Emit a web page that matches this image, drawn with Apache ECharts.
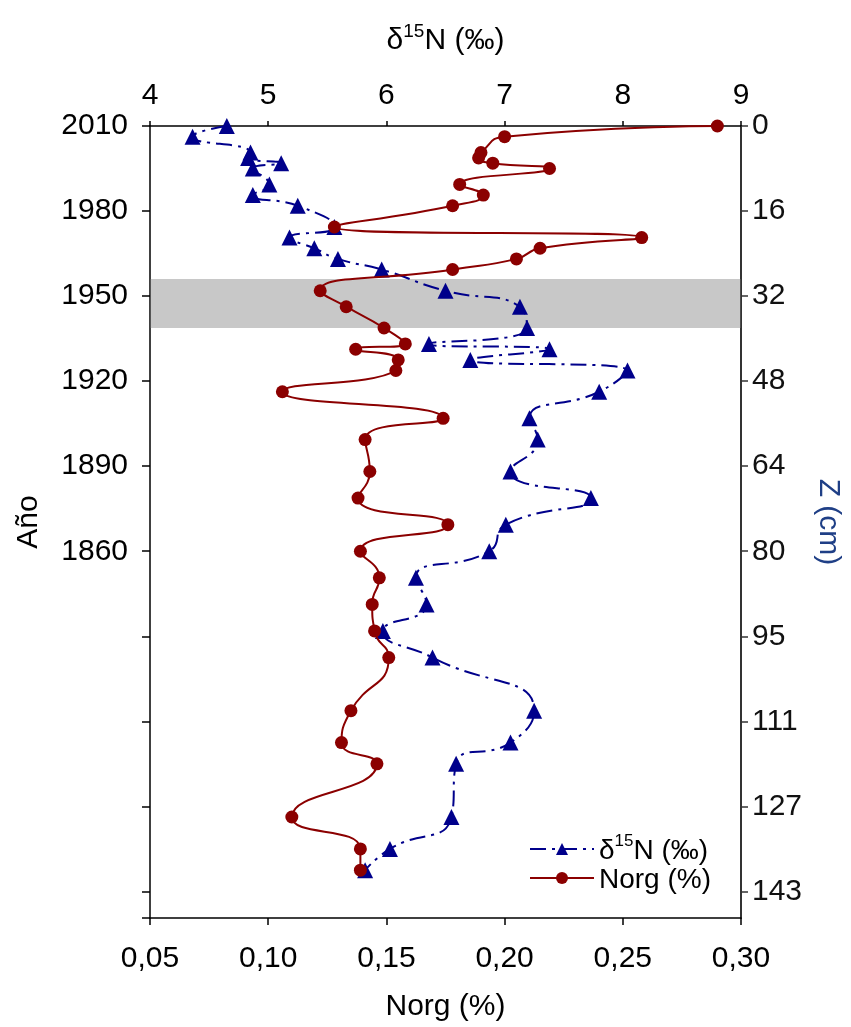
<!DOCTYPE html>
<html>
<head>
<meta charset="utf-8">
<style>
  html, body { margin: 0; padding: 0; background: #fff; }
  #chart { width: 851px; height: 1027px; }
</style>
<script src="https://cdn.jsdelivr.net/npm/echarts@6/dist/echarts.min.js"></script>
</head>
<body>
<div id="chart"></div>
<script>
// Sediment core profile: depth (cm) against Norg (%) and δ15N (‰)
const depthCm = [0, 2, 5, 6, 7, 8, 11, 13, 15, 19, 21, 23, 25, 27, 31, 34, 38, 41, 42, 44,
                 46, 50, 55, 59, 65, 70, 75, 80, 85, 90, 95, 100, 110, 116, 120, 130, 136, 140];
const norgPct = [0.290, 0.200, 0.190, 0.189, 0.195, 0.219, 0.181, 0.191, 0.178, 0.128,
                 0.258, 0.215, 0.205, 0.178, 0.122, 0.133, 0.149, 0.158, 0.137, 0.155,
                 0.154, 0.106, 0.174, 0.141, 0.143, 0.138, 0.176, 0.139, 0.147, 0.144,
                 0.145, 0.151, 0.135, 0.131, 0.146, 0.110, 0.139, 0.139];
const d15N = [4.65, 4.36, 4.85, 4.83, 5.11, 4.87, 5.01, 4.87, 5.25, 5.56,
              5.18, 5.39, 5.59, 5.96, 6.50, 7.13, 7.19, 6.36, 7.38, 6.71,
              8.04, 7.80, 7.21, 7.28, 7.05, 7.73, 7.01, 6.87, 6.25, 6.34,
              5.97, 6.39, 7.25, 7.05, 6.59, 6.55, 6.03, 5.82];

// Tick labels, one per 16 cm step
const yearLabels = ['2010', '1980', '1950', '1920', '1890', '1860', '', '', '', ''];
const depthLabels = ['0', '16', '32', '48', '64', '80', '95', '111', '127', '143'];

// Shaded depth interval (cm)
const bandDepth = [28.8, 38.0];

const FONT = 'Liberation Sans, Arial, sans-serif';
const BLUE = '#00008b';
const RED = '#8b0000';
const TICK_FS = 30;
const NAME_FS = 30;

const norgSeries = depthCm.map((d, i) => [norgPct[i], d]);
const d15NSeries = depthCm.map((d, i) => [d15N[i], d]);

const chart = echarts.init(document.getElementById('chart'), null, { renderer: 'canvas' });

const yCommon = {
  type: 'value', min: 0, max: 149, interval: 16, inverse: true,
  splitLine: { show: false }
};

// δ15N with a raised "15"
const deltaRich = (fs, sfs) => ({
  d: { fontSize: fs, lineHeight: fs + 4, fontFamily: FONT, color: '#000', verticalAlign: 'bottom' },
  s: { fontSize: sfs, lineHeight: sfs, fontFamily: FONT, color: '#000', verticalAlign: 'top' }
});

chart.setOption({
  animation: false,
  backgroundColor: '#fff',
  textStyle: { fontFamily: FONT },
  grid: { left: 150, right: 110, top: 126, bottom: 107, containLabel: false },
  xAxis: [
    {
      type: 'value', position: 'bottom', min: 0.05, max: 0.30, interval: 0.05,
      name: 'Norg (%)', nameLocation: 'middle', nameGap: 74,
      nameTextStyle: { fontSize: NAME_FS, color: '#000', fontFamily: FONT },
      axisLine: { show: true, onZero: false, lineStyle: { color: '#000', width: 1.5 } },
      axisTick: { show: true, inside: false, length: 7, lineStyle: { color: '#000', width: 1.5 } },
      axisLabel: { fontSize: TICK_FS, color: '#000', margin: 26, fontFamily: FONT,
        formatter: v => v.toFixed(2).replace('.', ',') },
      splitLine: { show: false }
    },
    {
      type: 'value', position: 'top', min: 4, max: 9, interval: 1,
      name: '{d|δ}{s|15}{d|N (‰)}', nameLocation: 'middle', nameGap: 70,
      nameTextStyle: { color: '#000', fontFamily: FONT, rich: deltaRich(NAME_FS, 19) },
      axisLine: { show: true, onZero: false, lineStyle: { color: '#000', width: 1.5 } },
      axisTick: { show: true, inside: false, length: 5, lineStyle: { color: '#000', width: 1.5 } },
      axisLabel: { fontSize: TICK_FS, color: '#000', margin: 15, fontFamily: FONT },
      splitLine: { show: false }
    }
  ],
  yAxis: [
    Object.assign({}, yCommon, {
      position: 'left',
      name: 'Año', nameLocation: 'middle', nameGap: 106,
      nameTextStyle: { fontSize: NAME_FS, color: '#000', fontFamily: FONT },
      axisLine: { show: true, onZero: false, lineStyle: { color: '#000', width: 1.5 } },
      axisTick: { show: true, inside: false, length: 8, lineStyle: { color: '#000', width: 1.5 } },
      axisLabel: { fontSize: TICK_FS, color: '#000', margin: 22, fontFamily: FONT,
        formatter: v => yearLabels[Math.round(v / 16)] || '' }
    }),
    Object.assign({}, yCommon, {
      position: 'right',
      name: 'Z (cm)', nameLocation: 'middle', nameGap: 57, nameRotate: -90,
      nameTextStyle: { fontSize: NAME_FS, color: '#1f3f86', fontFamily: FONT },
      axisLine: { show: true, onZero: false, lineStyle: { color: '#333', width: 2 } },
      axisTick: { show: true, inside: false, length: 7, lineStyle: { color: '#333', width: 1.5 } },
      axisLabel: { fontSize: TICK_FS, color: '#111', margin: 11, fontFamily: FONT,
        formatter: v => depthLabels[Math.round(v / 16)] || '' }
    })
  ],
  legend: {
    data: ['d15N', 'Norg'],
    orient: 'vertical', left: 524, top: 828,
    itemWidth: 64, itemHeight: 15, itemGap: 1,
    textStyle: {
      fontSize: 28, color: '#000', fontFamily: FONT,
      rich: deltaRich(28, 17)
    },
    formatter: name => name === 'd15N' ? '{d|δ}{s|15}{d|N (‰)}' : '{d|Norg (%)}'
  },
  series: [
    {
      name: 'Norg', type: 'line', xAxisIndex: 0, yAxisIndex: 0,
      data: norgSeries, smooth: 0.55, z: 3,
      symbol: 'circle', symbolSize: 13,
      lineStyle: { color: RED, width: 2 },
      itemStyle: { color: RED }
    },
    {
      name: 'd15N', type: 'line', xAxisIndex: 1, yAxisIndex: 0,
      data: d15NSeries, smooth: 0.55, z: 2,
      symbol: 'triangle', symbolSize: 16,
      lineStyle: { color: BLUE, width: 2, type: [16, 6, 3, 6] },
      itemStyle: { color: BLUE }
    },
    {
      name: 'band', type: 'line', xAxisIndex: 0, yAxisIndex: 0,
      data: [], z: 5, silent: true,
      markArea: {
        silent: true,
        itemStyle: { color: 'rgba(118,118,118,0.4)' },
        data: [[{ yAxis: bandDepth[0] }, { yAxis: bandDepth[1] }]]
      }
    }
  ]
});
</script>
</body>
</html>
